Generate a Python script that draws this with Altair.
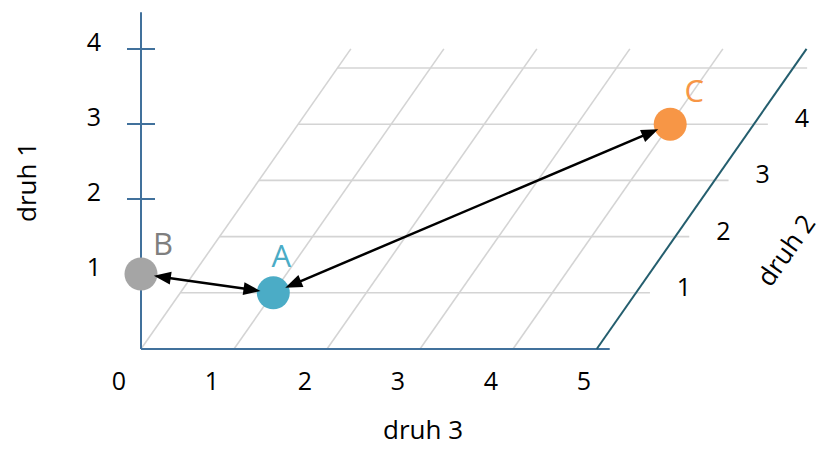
import math
import altair as alt
import pandas as pd

# ---------------- data ----------------
point_names = ["A", "B", "C"]
druh1_vals = [0, 1, 0]
druh2_vals = [1, 0, 4]
druh3_vals = [1, 0, 4]
point_colors = ["#4BACC6", "#A5A5A5", "#F79646"]
label_colors = ["#4BACC6", "#7F7F7F", "#F79646"]
arrow_from = ["B", "A"]
arrow_to = ["A", "C"]
druh1_ticks = [1, 2, 3, 4]
druh2_ticks = [1, 2, 3, 4]
druh3_ticks = [0, 1, 2, 3, 4, 5]
druh2_grid = [1, 2, 3, 4, 5]
druh3_grid = [0, 1, 2, 3, 4]
druh1_axis_max = 4.49
druh2_axis_max = 5.34
druh3_axis_max = 5.04
druh3_grid_max = 5.05
druh2_axis_at = 4.9          # druh 3 position of the oblique (druh 2) axis

# ---------------- projection / style ----------------
W, H = 820, 438
OX, OY = 133.0, 341.0      # origin position in plot area (px)
UX, UY = 93.0, 75.0        # px per unit of druh 3 / druh 1
DX, DY = 39.3, 56.2        # px per unit of druh 2 (oblique direction)
FONT = "Open Sans"
AXIS_BLUE = "#41719C"
AXIS_TEAL = "#245E6E"
GRID = "#D4D4D4"
label_offsets = {"A": (8, -35), "B": (22, -28), "C": (24, -31)}


def proj(d3, d2, d1):
    return d3 + d2 * DX / UX, d1 + d2 * DY / UY


xs = alt.Scale(domain=[-OX / UX, (W - OX) / UX], nice=False, zero=False)
ys = alt.Scale(domain=[-(H - OY) / UY, OY / UY], nice=False, zero=False)


def seg_df(segs):
    rows = []
    for a, b in segs:
        x0, y0 = proj(*a)
        x1, y1 = proj(*b)
        rows.append({"x": x0, "y": y0, "x2": x1, "y2": y1})
    return pd.DataFrame(rows)


def rules(df, color, width):
    return alt.Chart(df).mark_rule(color=color, strokeWidth=width).encode(
        x=alt.X("x:Q", scale=xs, axis=None),
        y=alt.Y("y:Q", scale=ys, axis=None),
        x2="x2:Q",
        y2="y2:Q",
    )


# grid
grid_obl = seg_df([((t, 0, 0), (t, druh2_axis_max, 0)) for t in druh3_grid])
grid_hor = seg_df([((0, d, 0), (druh3_grid_max, d, 0)) for d in druh2_grid])
# axes
ax_v = seg_df([((0, 0, 0), (0, 0, druh1_axis_max))])
ax_b = seg_df([((0, 0, 0), (druh3_axis_max, 0, 0))])
ax_o = seg_df([((druh2_axis_at, 0, 0), (druh2_axis_at, druh2_axis_max, 0))])
tick_half = 14 / UX
vticks = pd.DataFrame([{"x": -tick_half, "y": t, "x2": tick_half, "y2": t} for t in druh1_ticks])

# points
pts = pd.DataFrame({
    "name": point_names,
    "d1": druh1_vals, "d2": druh2_vals, "d3": druh3_vals,
    "color": point_colors, "lcolor": label_colors,
})
pts["X"] = [proj(a, b, c)[0] for a, b, c in zip(pts.d3, pts.d2, pts.d1)]
pts["Y"] = [proj(a, b, c)[1] for a, b, c in zip(pts.d3, pts.d2, pts.d1)]
pos = {r.name: (r.X, r.Y) for r in pts.itertuples()}

# arrows (double headed)
TIP_TRIM = 13.0
LINE_TRIM = 8.0
line_rows, head_rows = [], []
for f, t in zip(arrow_from, arrow_to):
    fx, fy = pos[f][0] * UX, -pos[f][1] * UY
    tx, ty = pos[t][0] * UX, -pos[t][1] * UY
    L = math.hypot(tx - fx, ty - fy)
    ux, uy = (tx - fx) / L, (ty - fy) / L
    tip_f = (fx + ux * TIP_TRIM, fy + uy * TIP_TRIM)
    tip_t = (tx - ux * TIP_TRIM, ty - uy * TIP_TRIM)
    a = (tip_f[0] + ux * LINE_TRIM, tip_f[1] + uy * LINE_TRIM)
    b = (tip_t[0] - ux * LINE_TRIM, tip_t[1] - uy * LINE_TRIM)
    line_rows.append({"x": a[0] / UX, "y": -a[1] / UY, "x2": b[0] / UX, "y2": -b[1] / UY})
    ang_t = math.degrees(math.atan2(ux, -uy)) % 360
    ang_f = math.degrees(math.atan2(-ux, uy)) % 360
    head_rows.append({"x": tip_t[0] / UX, "y": -tip_t[1] / UY, "ang": ang_t})
    head_rows.append({"x": tip_f[0] / UX, "y": -tip_f[1] / UY, "ang": ang_f})
arrow_lines = pd.DataFrame(line_rows)
arrow_heads = pd.DataFrame(head_rows)

# tick labels
t1 = pd.DataFrame({"x": [0.0] * len(druh1_ticks), "y": druh1_ticks, "t": [str(v) for v in druh1_ticks]})
t3 = pd.DataFrame({"x": druh3_ticks, "y": [0.0] * len(druh3_ticks), "t": [str(v) for v in druh3_ticks]})
t2 = pd.DataFrame({
    "x": [proj(druh2_axis_at, d, 0)[0] for d in druh2_ticks],
    "y": [proj(druh2_axis_at, d, 0)[1] for d in druh2_ticks],
    "t": [str(v) for v in druh2_ticks],
})


def tick_text(df, dx, dy):
    return alt.Chart(df).mark_text(
        font=FONT, fontSize=25, color="#000000", dx=dx, dy=dy,
        align="center", baseline="middle",
    ).encode(x=alt.X("x:Q", scale=xs, axis=None), y=alt.Y("y:Q", scale=ys, axis=None), text="t:N")


layers = [
    rules(grid_obl, GRID, 1.6),
    rules(grid_hor, GRID, 1.6),
    rules(ax_v, AXIS_BLUE, 2),
    rules(vticks, AXIS_BLUE, 2),
    rules(ax_b, AXIS_BLUE, 2),
    rules(ax_o, AXIS_TEAL, 2),
    tick_text(t1, -47, -6),
    tick_text(t3, -22, 33),
    tick_text(t2, 48, -5),
    alt.Chart(pts).mark_point(filled=True, opacity=1, size=1089, shape="circle").encode(
        x=alt.X("X:Q", scale=xs, axis=None),
        y=alt.Y("Y:Q", scale=ys, axis=None),
        color=alt.Color("color:N", scale=None),
    ),
    rules(arrow_lines, "#000000", 2.5),
    alt.Chart(arrow_heads).mark_point(
        filled=True, opacity=1, color="#000000", size=1156,
        shape="M0,0L-0.38,1L0.38,1Z", strokeWidth=0,
    ).encode(
        x=alt.X("x:Q", scale=xs, axis=None),
        y=alt.Y("y:Q", scale=ys, axis=None),
        angle=alt.Angle("ang:Q", scale=None),
    ),
]

for name in point_names:
    dx, dy = label_offsets[name]
    layers.append(
        alt.Chart(pts[pts.name == name]).mark_text(
            font=FONT, fontSize=31, dx=dx, dy=dy, align="center", baseline="middle",
        ).encode(
            x=alt.X("X:Q", scale=xs, axis=None),
            y=alt.Y("Y:Q", scale=ys, axis=None),
            text="name:N",
            color=alt.Color("lcolor:N", scale=None),
        )
    )

titles = pd.DataFrame({"t": ["druh 1", "druh 3", "druh 2"]})
# (x, y, angle) in plot-area pixels
title_style = {
    "druh 1": (20, 174, 270),
    "druh 3": (415, 423, 0),
    "druh 2": (779, 243, 305),
}
for t, (tx, ty, ang) in title_style.items():
    layers.append(
        alt.Chart(titles[titles.t == t]).mark_text(
            font=FONT, fontSize=26, color="#000000", angle=ang,
            align="center", baseline="middle",
        ).encode(x=alt.value(tx), y=alt.value(ty), text="t:N")
    )

chart = alt.layer(*layers).properties(
    width=W, height=H, padding=0, autosize=alt.AutoSizeParams(type="none"),
).configure_view(stroke=None)

chart.save("out.html", embed_options={"renderer": "svg", "actions": False})
